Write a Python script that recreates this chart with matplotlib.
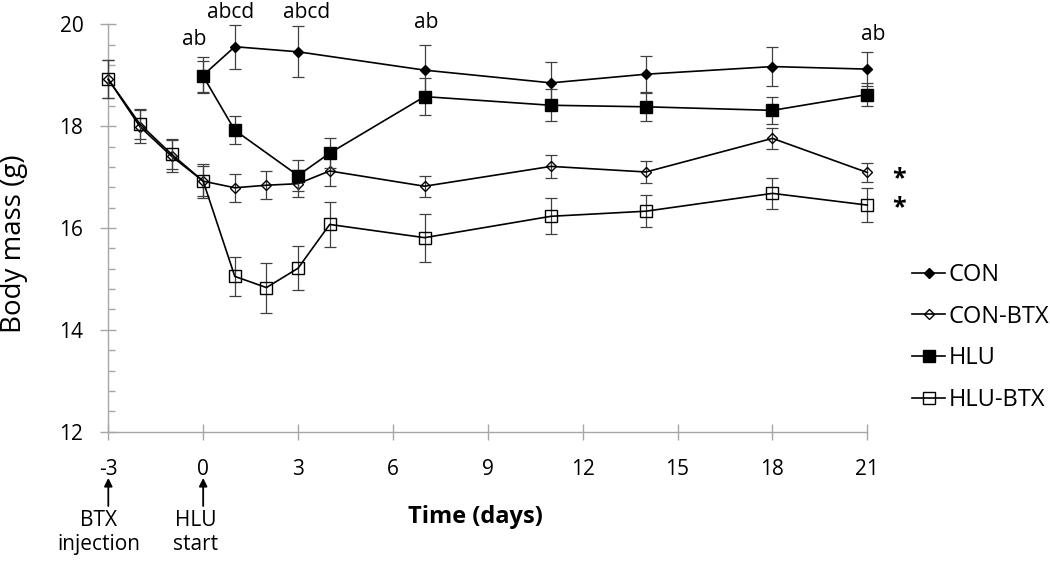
import matplotlib
matplotlib.use("Agg")
import matplotlib.pyplot as plt
from matplotlib.ticker import MultipleLocator

plt.rcParams['font.family'] = ['Open Sans', 'DejaVu Sans']

# ---------------- data ----------------
days_con = [0, 1, 3, 7, 11, 14, 18, 21]
con = [19.00, 19.56, 19.46, 19.10, 18.85, 19.02, 19.17, 19.12]
con_err = [0.35, 0.43, 0.50, 0.49, 0.41, 0.35, 0.38, 0.33]

days_btx = [-3, -2, -1, 0, 1, 2, 3, 4, 7, 11, 14, 18, 21]
con_btx = [18.92, 17.99, 17.41, 16.92, 16.79, 16.84, 16.87, 17.12, 16.82, 17.21, 17.10, 17.76, 17.09]
con_btx_err = [0.37, 0.33, 0.31, 0.33, 0.27, 0.28, 0.27, 0.29, 0.21, 0.22, 0.22, 0.20, 0.19]

days_hlu = [0, 1, 3, 4, 7, 11, 14, 18, 21]
hlu = [18.98, 17.92, 17.03, 17.47, 18.58, 18.41, 18.38, 18.31, 18.62]
hlu_err = [0.30, 0.28, 0.31, 0.30, 0.37, 0.31, 0.28, 0.26, 0.22]

hlu_btx = [18.92, 18.04, 17.45, 16.92, 15.05, 14.83, 15.21, 16.07, 15.81, 16.23, 16.33, 16.68, 16.45]
hlu_btx_err = [0.37, 0.30, 0.30, 0.30, 0.39, 0.49, 0.43, 0.44, 0.47, 0.35, 0.32, 0.30, 0.33]

labels = ["CON", "CON-BTX", "HLU", "HLU-BTX"]

sig_text = ["ab", "abcd", "abcd", "ab", "ab"]
sig_x = [-0.28, 0.88, 3.26, 7.06, 21.2]
sig_y = [19.59, 20.12, 20.12, 19.92, 19.69]

star_x = [22.0, 22.0]
star_y = [16.84, 16.27]

xticks = [-3, 0, 3, 6, 9, 12, 15, 18, 21]
yticks = [12, 14, 16, 18, 20]

# ---------------- figure ----------------
W, H = 1050, 562
fig = plt.figure(figsize=(W / 100, H / 100), dpi=100)
L, R, T, B = 108.3, 867.3, 24.3, 431.7
ax = fig.add_axes([L / W, 1 - B / H, (R - L) / W, (B - T) / H])

axis_col = '#a6a6a6'
err_col = '#404040'
fs = 15

series = [
    (days_con, con, con_err, 'D', 'black', 5.6),
    (days_btx, con_btx, con_btx_err, 'D', 'none', 5.6),
    (days_hlu, hlu, hlu_err, 's', 'black', 9.0),
    (days_btx, hlu_btx, hlu_btx_err, 's', 'none', 9.0),
]
handles = []
for i, (x, y, e, m, fc, ms) in enumerate(series):
    ax.errorbar(x, y, yerr=e, fmt='none', ecolor=err_col, elinewidth=0.9,
                capsize=4, capthick=0.9, zorder=3 + i, clip_on=False)
    h, = ax.plot(x, y, color='black', lw=1.2, marker=m, markersize=ms,
                 markerfacecolor=fc, markeredgecolor='black', markeredgewidth=1.0,
                 zorder=3 + i, clip_on=False, label=labels[i])
    handles.append(h)

ax.set_xlim(-3, 21)
ax.set_ylim(12, 20)
ax.set_xticks(xticks)
ax.set_xticklabels([str(v) for v in xticks])
ax.set_yticks(yticks)
ax.yaxis.set_minor_locator(MultipleLocator(0.4))

for s in ['top', 'right']:
    ax.spines[s].set_visible(False)
for s in ['left', 'bottom']:
    ax.spines[s].set_color(axis_col)
    ax.spines[s].set_linewidth(1.0)

ax.tick_params(axis='both', which='major', direction='inout', length=12,
               width=1.0, color=axis_col, labelsize=fs)
ax.tick_params(axis='x', which='major', pad=14)
ax.tick_params(axis='y', which='major', pad=12)
ax.tick_params(axis='y', which='minor', direction='in', length=5, width=1.0,
               color=axis_col)

fig.text(14 / W, 1 - 243.5 / H, "Body mass (g)", fontsize=20, rotation=90,
         ha='center', va='center')

fig.text(475 / W, 1 - 517 / H, "Time (days)", fontsize=17, fontweight='bold',
         ha='center', va='center')

for t, x, y in zip(sig_text, sig_x, sig_y):
    ax.text(x, y, t, fontsize=fs, ha='center', va='baseline')

for x, y in zip(star_x, star_y):
    ax.text(x, y, "*", fontsize=18, fontweight='bold', ha='center', va='baseline')

# arrows and notes under the axis
xt = ax.get_xaxis_transform()
def ay(px):
    return (B - px) / (B - T)

for xd, txt, tx in [(-3, "BTX\ninjection", -3.3), (0, "HLU\nstart", -0.25)]:
    ax.annotate("", xy=(xd, ay(478)), xycoords=xt, xytext=(xd, ay(506)),
                textcoords=xt,
                arrowprops=dict(arrowstyle='-|>', color='black', lw=1.3,
                                mutation_scale=12, shrinkA=0, shrinkB=0))
    ax.text(tx, ay(510), txt, transform=xt, ha='center', va='top',
            fontsize=fs, linespacing=1.2)

ax.legend(handles=handles, loc='upper left',
          bbox_to_anchor=(912 / W, 1 - 263 / H), bbox_transform=fig.transFigure,
          frameon=False, fontsize=17, handlelength=1.4, handletextpad=0.15,
          labelspacing=0.75, borderpad=0, borderaxespad=0)

fig.savefig("out.png", dpi=100)
